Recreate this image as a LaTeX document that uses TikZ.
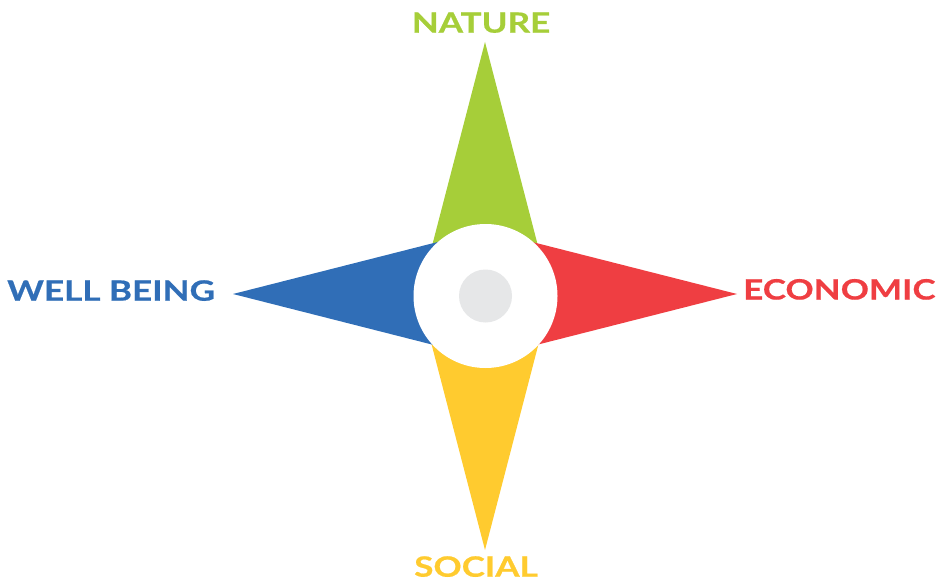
\documentclass[tikz,border=0pt]{standalone}
\usepackage{fontspec}
\newfontfamily\labelfont{Lato}[FakeStretch=1.25,BoldFeatures={FakeBold=0.6}]
\definecolor{natgreen}{RGB}{166,206,57}
\definecolor{ecored}{RGB}{239,62,66}
\definecolor{wellblue}{RGB}{48,110,183}
\definecolor{socyellow}{RGB}{255,203,47}
\definecolor{hubgray}{RGB}{230,231,232}
\tikzset{
  label/.style={inner sep=0pt,font=\labelfont\fontsize{28}{30}\selectfont\bfseries}
}
\begin{document}
\begin{tikzpicture}[x=1pt,y=-1pt]
   \useasboundingbox (0,0) rectangle (937,583);
   % spitzen
   \fill[natgreen] (485,42) -- (419,296) -- (551,296) -- cycle;
   \fill[socyellow] (485,550) -- (419,296) -- (551,296) -- cycle;
   \fill[wellblue] (233,294) -- (485,230) -- (485,358) -- cycle;
   \fill[ecored] (737,294) -- (485,230) -- (485,358) -- cycle;
   % mitte
   \fill[white] (485.5,296) circle (72);
   \fill[hubgray] (485.5,296) circle (26.5);
   % beschriftung
   \node[label,natgreen,anchor=base] (nature) at (481,32.7) {NATURE};
   \node[label,socyellow,anchor=base] (social) at (476,576.7) {SOCIAL};
   \node[label,wellblue,anchor=base west] (wellbeing) at (7,300.7) {WELL BEING};
   \node[label,ecored,anchor=base west] (economic) at (743,299.5) {ECONOMIC};
\end{tikzpicture}
\end{document}
